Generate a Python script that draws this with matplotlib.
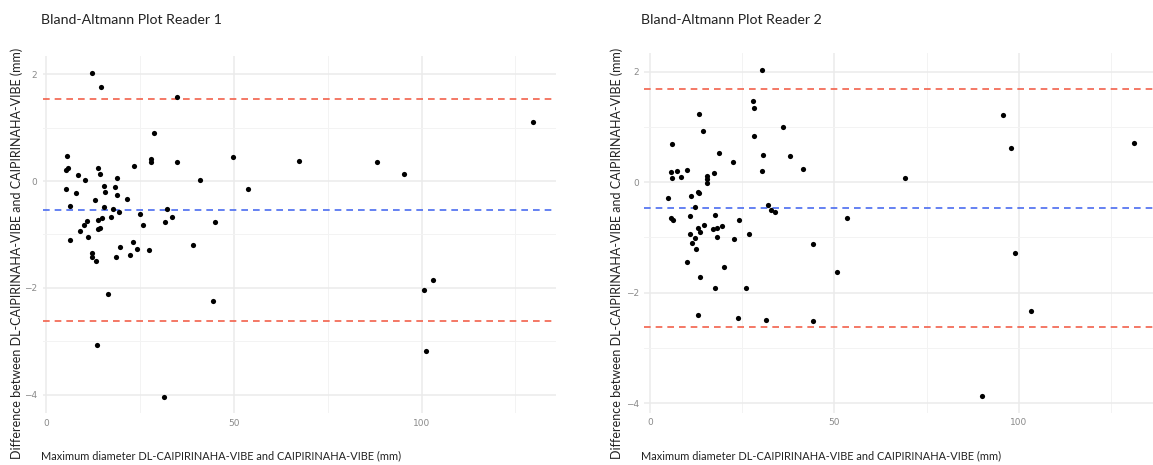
import matplotlib
matplotlib.use('Agg')
import matplotlib.pyplot as plt
from matplotlib.ticker import MultipleLocator

''' ----- Data read off the two Bland-Altman panels ----- '''

# Reader 1: mean diameter (mm) and difference (mm)
r1_x = [12.1, 14.6, 34.7, 28.7, 5.4, 5.3, 5.8, 8.4, 10.4, 13.7,
        14.4, 18.7, 23.4, 27.8, 27.9, 34.7, 40.8, 5.3, 8.0, 6.2,
        15.4, 15.7, 18.4, 18.9, 21.4, 12.9, 15.4, 17.8, 19.3, 24.9,
        32.2, 33.4, 31.6, 25.7, 44.8, 10.8, 10.0, 13.7, 14.9, 17.1,
        9.0, 13.7, 14.3, 11.1, 6.4, 12.2, 12.1, 13.2, 19.6, 18.6,
        23.1, 22.3, 24.2, 27.4, 39.1, 16.3, 44.4, 13.4, 31.3, 49.8,
        53.8, 67.3, 88.1, 95.2, 129.6, 100.6, 103.1, 101.2]
r1_y = [2.03, 1.76, 1.58, 0.89, 0.46, 0.21, 0.24, 0.12, 0.02, 0.24,
        0.13, 0.05, 0.29, 0.36, 0.42, 0.35, 0.02, -0.14, -0.23, -0.46,
        -0.10, -0.20, -0.12, -0.26, -0.34, -0.36, -0.49, -0.52, -0.58, -0.62,
        -0.52, -0.68, -0.77, -0.82, -0.77, -0.75, -0.82, -0.72, -0.70, -0.67,
        -0.93, -0.90, -0.87, -1.05, -1.10, -1.34, -1.43, -1.50, -1.23, -1.43,
        -1.14, -1.38, -1.28, -1.29, -1.20, -2.11, -2.24, -3.06, -4.04, 0.45,
        -0.15, 0.37, 0.36, 0.13, 1.10, -2.03, -1.85, -3.18]
r1_bias = -0.54
r1_loa = [1.54, -2.62]

# Reader 2
r2_x = [30.3, 27.8, 28.1, 13.3, 14.4, 36.1, 28.3, 6.0, 18.7, 30.7,
        37.9, 22.4, 41.5, 30.4, 5.6, 7.4, 9.9, 6.0, 8.3, 15.5,
        15.5, 15.5, 17.3, 4.8, 11.1, 13.1, 13.4, 12.3, 31.9, 32.8,
        33.9, 5.6, 6.1, 17.6, 10.8, 24.2, 13.0, 13.6, 14.6, 17.2,
        18.1, 19.5, 18.1, 10.8, 12.2, 11.4, 12.4, 22.9, 26.9, 9.9,
        13.5, 20.0, 17.7, 26.0, 44.1, 13.0, 23.9, 31.4, 44.2, 95.6,
        97.8, 131.2, 69.1, 53.3, 50.6, 98.8, 103.3, 90.0]
r2_y = [2.04, 1.47, 1.35, 1.24, 0.92, 1.00, 0.83, 0.69, 0.53, 0.49,
        0.47, 0.36, 0.24, 0.20, 0.18, 0.20, 0.22, 0.07, 0.09, 0.12,
        0.06, -0.01, 0.16, -0.29, -0.24, -0.18, -0.20, -0.45, -0.41, -0.51,
        -0.54, -0.65, -0.68, -0.59, -0.62, -0.68, -0.82, -0.90, -0.78, -0.84,
        -0.83, -0.80, -1.00, -0.94, -1.01, -1.10, -1.20, -1.03, -0.94, -1.45,
        -1.72, -1.53, -1.91, -1.91, -1.12, -2.41, -2.45, -2.49, -2.51, 1.21,
        0.62, 0.72, 0.08, -0.64, -1.62, -1.29, -2.34, -3.88]
r2_bias = -0.47
r2_loa = [1.69, -2.63]

titles = ['Bland-Altmann Plot Reader 1', 'Bland-Altmann Plot Reader 2']
xlab = 'Maximum diameter DL-CAIPIRINAHA-VIBE and CAIPIRINAHA-VIBE (mm)'
ylab = 'Difference between DL-CAIPIRINAHA-VIBE and CAIPIRINAHA-VIBE (mm)'

''' ----- Figure ----- '''
fig = plt.figure(figsize=(11.53, 4.65), dpi=100)
W, H = 1153.0, 465.0

ax1 = fig.add_axes([43 / W, 1 - 413.2 / H, 513 / W, 356.9 / H])
ax2 = fig.add_axes([644.4 / W, 1 - 412.8 / H, 513 / W, 359.5 / H])

panels = [(ax1, r1_x, r1_y, r1_bias, r1_loa), (ax2, r2_x, r2_y, r2_bias, r2_loa)]
for ax, x, y, bias, loa in panels:
    ax.set_facecolor('white')
    ax.scatter(x, y, s=14, color='black', linewidths=0, zorder=3)
    ax.axhline(bias, color='#4a6cf0', linestyle=(0, (4, 3)), linewidth=1.2, zorder=2)
    for l in loa:
        ax.axhline(l, color='#f2614b', linestyle=(0, (4, 3)), linewidth=1.2, zorder=2)
    ax.margins(0.05)
    ax.xaxis.set_major_locator(MultipleLocator(50))
    ax.xaxis.set_minor_locator(MultipleLocator(25))
    ax.yaxis.set_major_locator(MultipleLocator(2))
    ax.yaxis.set_minor_locator(MultipleLocator(1))
    ax.grid(which='major', color='#ebebeb', linewidth=1.1, zorder=0)
    ax.grid(which='minor', color='#f3f3f3', linewidth=0.7, zorder=0)
    ax.set_axisbelow(True)
    for s in ax.spines.values():
        s.set_visible(False)
    ax.tick_params(which='both', length=0, labelsize=6.5, labelcolor='#8a8a8a', pad=4)
    ax.set_yticks([-4, -2, 0, 2])
    ax.set_xticks([0, 50, 100])

# titles and axis titles placed on the figure
fig.text(41 / W, 1 - 20 / H, titles[0], fontsize=10.2, family='Lato', va='center', color='#222222')
fig.text(641 / W, 1 - 20 / H, titles[1], fontsize=10.2, family='Lato', va='center', color='#222222')
fig.text(41 / W, 1 - 456 / H, xlab, fontsize=7.9, family='Lato', va='center', color='#222222')
fig.text(641 / W, 1 - 456 / H, xlab, fontsize=7.9, family='Lato', va='center', color='#222222')
fig.text(17 / W, 1 - 253 / H, ylab, fontsize=9.0, family='Lato', rotation=90, ha='center', va='center', color='#222222')
fig.text(617 / W, 1 - 253 / H, ylab, fontsize=9.0, family='Lato', rotation=90, ha='center', va='center', color='#222222')

plt.savefig('out.png', dpi=100)
